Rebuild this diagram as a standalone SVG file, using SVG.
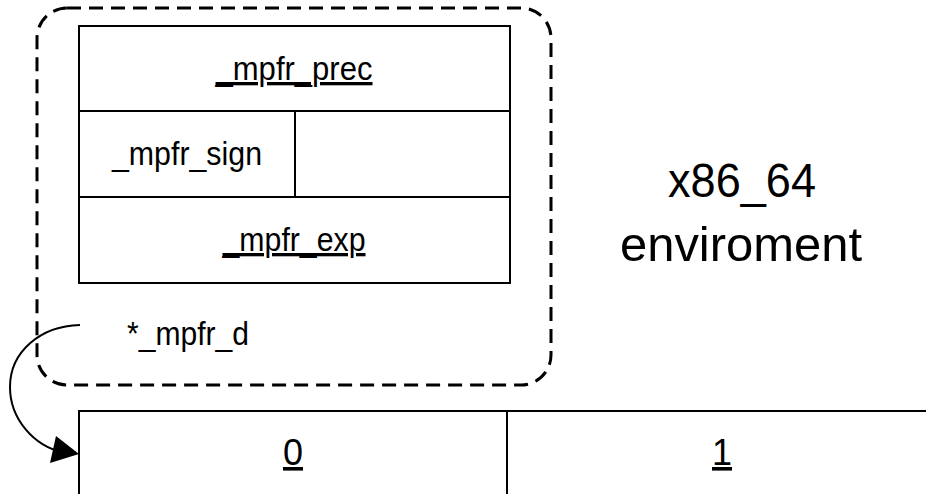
<svg xmlns="http://www.w3.org/2000/svg" width="926" height="494" viewBox="0 0 926 494">
  <defs>
    <style>
      .box { fill: #ffffff; stroke: #000000; stroke-width: 2; }
      .frame { fill: none; stroke: #000000; stroke-width: 3; stroke-dasharray: 14 8; }
      .lbl { font-family: "Liberation Sans", Arial, sans-serif; font-size: 33px; fill: #000000; }
      .idx { font-family: "Liberation Sans", Arial, sans-serif; font-size: 36px; fill: #000000; text-anchor: middle; text-decoration: underline; }
      .mid { text-anchor: middle; }
      .ul { text-decoration: underline; }
      .big { font-family: "Liberation Sans", Arial, sans-serif; font-size: 48px; fill: #000000; text-anchor: middle; }
      .link { fill: none; stroke: #000000; stroke-width: 2; }
    </style>
  </defs>
  <rect width="926" height="494" fill="#ffffff"/>

  <!-- mpfr struct -->
  <g id="mpfr-struct">
    <rect class="frame" x="37" y="8" width="514" height="377" rx="30" ry="30"/>
    <g id="field-prec">
      <rect class="box" x="79" y="26" width="431" height="85"/>
      <text class="lbl mid ul" x="294" y="80" textLength="157" lengthAdjust="spacingAndGlyphs">_mpfr_prec</text>
    </g>
    <g id="field-sign">
      <rect class="box" x="79" y="111" width="216" height="86"/>
      <rect class="box" x="295" y="111" width="215" height="86"/>
      <text class="lbl mid" x="187" y="165" textLength="150" lengthAdjust="spacingAndGlyphs">_mpfr_sign</text>
    </g>
    <g id="field-exp">
      <rect class="box" x="79" y="197" width="431" height="86"/>
      <text class="lbl mid ul" x="294" y="251" textLength="143" lengthAdjust="spacingAndGlyphs">_mpfr_exp</text>
    </g>
    <text class="lbl" x="127" y="345" textLength="122" lengthAdjust="spacingAndGlyphs">*_mpfr_d</text>
  </g>

  <!-- environment caption -->
  <g id="env-label">
    <text class="big" x="742" y="197" textLength="148" lengthAdjust="spacingAndGlyphs">x86_64</text>
    <text class="big" x="741" y="261" textLength="242" lengthAdjust="spacingAndGlyphs">enviroment</text>
  </g>

  <!-- limb array -->
  <g id="limbs">
    <rect class="box" x="79" y="411" width="428" height="100"/>
    <rect class="box" x="507" y="411" width="430" height="100"/>
    <text class="idx" x="293" y="465">0</text>
    <text class="idx" x="722" y="465">1</text>
  </g>

  <!-- pointer from _mpfr_d to the limbs -->
  <g id="connectors">
    <path class="link" d="M80,325 C40,326 10,352 10,387 C10,420 35,446 62,452" />
    <path d="M79,454 L50,463 L56,436 Z" fill="#000000"/>
  </g>
</svg>
